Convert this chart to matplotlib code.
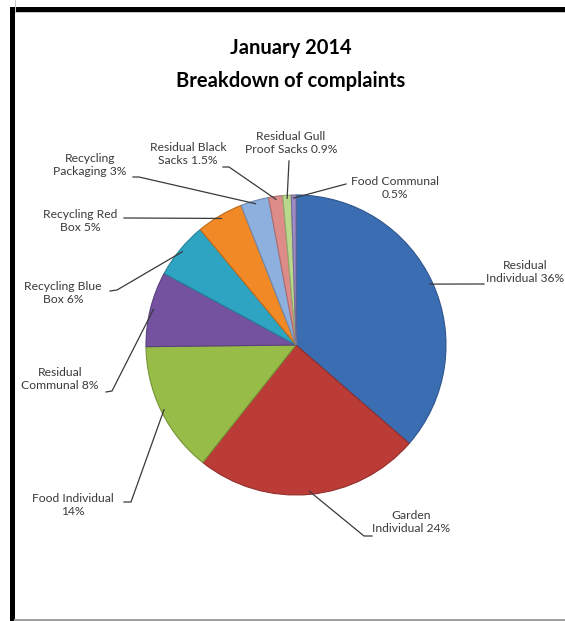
import numpy as np
import matplotlib
matplotlib.use('Agg')
import matplotlib.pyplot as plt
from matplotlib.patches import Rectangle
from matplotlib.colors import to_rgb

# data
categories = ['Residual\nIndividual 36%', 'Garden\nIndividual 24%', 'Food Individual\n14%',
              'Residual\nCommunal 8%', 'Recycling Blue\nBox 6%', 'Recycling Red\nBox 5%',
              'Recycling\nPackaging 3%', 'Residual Black\nSacks 1.5%',
              'Residual Gull\nProof Sacks 0.9%', 'Food Communal\n0.5%']
values = [36, 24, 14, 8, 6, 5, 3, 1.5, 0.9, 0.5]
colors = ['#3b6db3', '#bb3b37', '#97bd48', '#7452a0', '#2ea4c2', '#f18a26',
          '#8eb0de', '#de8c8a', '#b9d88c', '#9c8bc6']
title_lines = ['January 2014', 'Breakdown of complaints']

# layout, in pixels from top-left of the picture
W, H = 565, 621
center = (296, 345)
radius = 150
label_pos = [(525, 272), (411, 522), (73, 505), (60, 379), (63, 293),
             (80, 221), (90, 165), (188, 154), (291, 143), (395, 188)]
stub = [[(484, 284)], [(372, 536), (364, 536)], [(124, 502), (131, 502)],
        [(106, 392), (112, 391)], [(110, 291), (117, 290)], [(124, 218), (130, 218)],
        [(133, 177), (139, 177)], [(223, 167), (229, 167)], [(289, 161)],
        [(346, 184)]]


def py(y):
    return H - y


def darker(c, f=0.78):
    r, g, b = to_rgb(c)
    return (r * f, g * f, b * f)


fig = plt.figure(figsize=(W / 100, H / 100), dpi=100)
ax = fig.add_axes([0, 0, 1, 1])

wedges, _ = ax.pie(values, colors=colors, startangle=90, counterclock=False,
                   center=(center[0], py(center[1])), radius=radius,
                   wedgeprops=dict(linewidth=0.8))
for w, c in zip(wedges, colors):
    w.set_edgecolor(darker(c))

for w, lab, (tx, ty), pts in zip(wedges, categories, label_pos, stub):
    ang = np.deg2rad((w.theta1 + w.theta2) / 2)
    ex = center[0] + radius * 0.98 * np.cos(ang)
    ey = py(center[1]) + radius * 0.98 * np.sin(ang)
    xs = [p[0] for p in pts] + [ex]
    ys = [py(p[1]) for p in pts] + [ey]
    ax.plot(xs, ys, color='#3a3a3a', linewidth=0.9)
    ax.text(tx, py(ty), lab, ha='center', va='center', fontsize=8.7,
            family='Lato', color='#3a3a3a', linespacing=1.2, multialignment='center')

for y, t in zip([48, 81], title_lines):
    ax.text(291, py(y), t, ha='center', va='center', fontsize=14.5,
            fontweight='bold', family='Lato', color='black')

# frame of the screenshot
ax.add_patch(Rectangle((10, 0), 5, py(7), color='black', lw=0))
ax.add_patch(Rectangle((10, py(12)), W - 10, 5, color='black', lw=0))
ax.add_patch(Rectangle((15, py(13)), 1, py(13) - 2, color='#c8c8c8', lw=0))
ax.add_patch(Rectangle((15, py(13)), W - 15, 1, color='#c8c8c8', lw=0))
ax.add_patch(Rectangle((14, 0), W - 14, 2, color='#a0a0a0', lw=0))

ax.set_xlim(0, W)
ax.set_ylim(0, H)
ax.set_aspect('auto')
ax.set_axis_off()
fig.savefig('out.png', dpi=100, facecolor='white')
